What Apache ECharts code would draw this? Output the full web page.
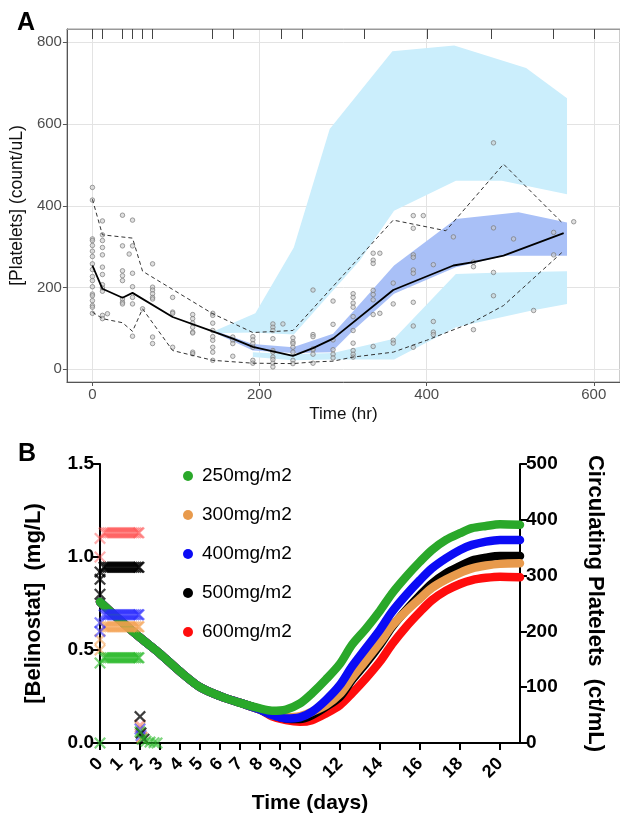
<!DOCTYPE html>
<html><head><meta charset="utf-8">
<script src="https://cdn.jsdelivr.net/npm/echarts@6/dist/echarts.min.js"></script>
<style>html,body{margin:0;padding:0;background:#fff}#c{width:620px;height:827px}</style>
</head><body><div id="c"></div>
<script>
// ---------- Panel A data ----------
const obsTimes = [0,12,18,36,44,48,60,72,96,120,144,168,192,216,228,240,264,288,312,336,344,360,384,396,408,432,456,480,504,528,552,576];
const obsValues = [
  [445,414,319,315,303,289,276,258,244,227,217,202,184,180,168,156,152,137],
  [363,329,315,298,280,250,232,207,199,191,132,124],
  [136],
  [377,302,241,229,217,172,164,160],
  [282],
  [365,302,235,202,176,160,81],
  [148],
  [258,201,194,185,176,172,79,63],
  [176,140,137,54],
  [134,124,113,103,91,89,42,38],
  [137,132,113,95,80,71,54,42,22],
  [79,71,63,32],
  [80,72,63,54,22,15],
  [111,103,95,75,46,42,30,24,15,6],
  [111],
  [77,67,63,54,42,22,14],
  [194,85,80,50,48,37,15],
  [167,110,72,48,37,28],
  [185,176,162,152,129,95,64,46,37,30],
  [284,267,259,193,183,170,134,56],
  [137,284],
  [211,160,71,64],
  [376,345,280,274,243,235,164,106,54],
  [376],
  [256,117,91,85],
  [324],
  [262,251,97],
  [554,346,237,180],
  [319],
  [144],
  [335,280],
  [361]
];
const rugTimes = [0,12,36,48,60,72,144,168,226,251,325,401,477,551,601];
const medianT = [0,12,36,48,96,144,168,192,240,264,288,360,432,456,492,564];
const medianV = [254,197,175,187,128,93,75,55,33,52,75,194,254,262,278,333];
const p95T = [0,12,48,60,144,192,240,360,423,492,562];
const p95V = [416,329,321,240,136,90,95,365,339,502,359];
const p05T = [0,12,36,48,60,96,144,192,240,264,288,312,360,400,455,492,562];
const p05V = [140,124,114,93,148,46,22,15,14,18,20,30,42,71,115,156,286];
// prediction-interval bands (upper edge / lower edge)
const hiBandUpT = [144,195,241,284,359,433,519,568];
const hiBandUpV = [92,137,298,588,778,792,737,663];
const hiBandLoT = [144,192,241,320,361,435,490,568];
const hiBandLoV = [88,90,85,266,388,461,461,428];
const midBandUpT = [150,192,240,288,320,361,435,510,568];
const midBandUpV = [92,62,54,87,160,254,368,384,359];
const midBandLoT = [150,192,240,286,312,361,435,494,568];
const midBandLoV = [86,46,40,42,95,185,250,278,278];
const loBandUpT = [192,240,288,361,435,490,568];
const loBandUpV = [42,37,40,75,233,237,240];
const loBandLoT = [192,240,288,361,435,526,568];
const loBandLoV = [30,22,24,24,103,144,160];
const xTicksA = [0,200,400,600];
const yTicksA = [0,200,400,600,800];

// ---------- Panel B data ----------
const doseNames = ['250mg/m2','300mg/m2','400mg/m2','500mg/m2','600mg/m2'];
const dayGrid = [0,1,2,3,4,5,6,7,8,8.6,9.3,10,10.6,11.3,12,12.6,13.3,14,14.6,15.3,16,16.6,17.3,18,18.6,19.3,20,21];
const plt250 = [253,220,189,160,128,100,84,72,62,58,60,71,89,114,142,176,205,237,268,298,325,346,364,376,385,389,392,391];
const plt300 = [253,220,189,160,128,100,84,72,60,50,46,48,56,68,88,117,148,180,210,236,259,278,293,305,313,318,321,322];
const plt400 = [253,220,189,160,128,100,84,72,60,50,44,46,56,77,104,137,170,203,235,265,292,313,331,346,355,361,364,364];
const plt500 = [253,220,189,160,128,100,84,72,60,50,44,43,50,65,83,113,143,176,208,238,265,286,304,317,327,332,335,335];
const plt600 = [253,220,189,160,128,100,84,72,60,48,41,38,41,53,68,89,116,146,177,208,235,256,273,285,292,296,298,297];
const infusionDays = [0.2,0.3,0.4,0.5,0.6,0.7,0.8,0.9,1.0,1.1,1.2,1.3,1.4,1.5,1.6,1.7,1.8,1.9,1.95];
const plateau = {"250":0.458, "300":0.625, "400":0.69, "500":0.945, "600":1.13};
const startConc250 = [0.43, 0.0];
const startConc300 = [0.557, 0.5];
const startConc400 = [0.647, 0.6];
const startConc500 = [0.8, 0.88, 0.92];
const startConc600 = [1.0, 1.1];
const postDays250 = [2.0,2.1,2.3,2.5,2.7,2.85];
const postConc250 = [0.06,0.02,0.01,0.005,0.002,0.0];
const postDays300 = [2.0,2.1];
const postConc300 = [0.085,0.03];
const postDays400 = [2.0,2.05];
const postConc400 = [0.075,0.04];
const postDays500 = [2.0,2.05,2.2];
const postConc500 = [0.142,0.054,0.02];
const postDays600 = [2.0,2.1];
const postConc600 = [0.097,0.03];
const dayTicks = [0,1,2,3,4,5,6,7,8,9,10,12,14,16,18,20];

// ---------- build ----------
const obsData = [];
obsTimes.forEach((t,i)=>obsValues[i].forEach(v=>obsData.push([t,v])));
const zip = (a,b)=>a.map((x,i)=>[x,b[i]]);

function band(upT, upV, loT, loV, color, z){
  return {
    type:'custom', xAxisIndex:0, yAxisIndex:0, silent:true, z:z,
    data:[[upT[0], upV[0]]],
    renderItem:function(params, api){
      const pts=[];
      for(let i=0;i<upT.length;i++) pts.push(api.coord([upT[i], upV[i]]));
      for(let i=loT.length-1;i>=0;i--) pts.push(api.coord([loT[i], loV[i]]));
      return {type:'polygon', shape:{points:pts}, style:{fill:color}};
    }
  };
}
const XPATH = 'path://M0,0.13L0.13,0L0.5,0.37L0.87,0L1,0.13L0.63,0.5L1,0.87L0.87,1L0.5,0.63L0.13,1L0,0.87L0.37,0.5Z';
function xMarks(name, start, pDays, pConc, color){
  const d = [];
  start.forEach(v=>d.push([0, v]));
  infusionDays.forEach(t=>d.push([t, plateau[name]]));
  pDays.forEach((t,i)=>d.push([t, pConc[i]]));
  return {type:'scatter', xAxisIndex:2, yAxisIndex:1, symbol:XPATH, symbolSize:12,
    itemStyle:{color:color}, data:d, z:6, silent:true};
}
const curveColors = {'250mg/m2':'#2aa82a','300mg/m2':'#e89a4c','400mg/m2':'#0b0bf5','500mg/m2':'#000000','600mg/m2':'#ff0d0d'};
function curve(name, vals){
  return {type:'line', name:name, xAxisIndex:2, yAxisIndex:2, data:zip(dayGrid, vals),
    smooth:0.3, showSymbol:false, symbol:'circle',
    lineStyle:{width:8.5, color:curveColors[name], cap:'round', join:'round'},
    itemStyle:{color:curveColors[name]}, z:5, silent:true};
}

const FA = 'Liberation Sans, Arial, sans-serif';
const chart = echarts.init(document.getElementById('c'), null, {renderer:'canvas'});
chart.setOption({
  animation:false,
  backgroundColor:'#ffffff',
  title:[
    {text:'A', left:12, top:6, textStyle:{fontSize:25, fontWeight:'bold', fontFamily:FA, color:'#000'}},
    {text:'B', left:13, top:437, textStyle:{fontSize:25, fontWeight:'bold', fontFamily:FA, color:'#000'}}
  ],
  legend:{
    data:doseNames, orient:'vertical', left:178, top:461, itemGap:19, itemWidth:18, itemHeight:10,
    icon:'circle', textStyle:{fontSize:19, fontFamily:FA, color:'#000', lineHeight:20}, selectedMode:false
  },
  grid:[
    {left:65, top:29, width:557, height:353, show:true, borderColor:'#999', borderWidth:1},
    {left:100, top:464, width:420, height:279}
  ],
  xAxis:[
    {type:'value', gridIndex:0, min:-30.5, max:631.4,
     axisLine:{show:true, onZero:false, lineStyle:{color:'#555', width:1}},
     axisTick:{show:true, customValues:xTicksA, length:4, lineStyle:{color:'#555'}},
     axisLabel:{customValues:xTicksA, color:'#4d4d4d', fontSize:15, fontFamily:FA, margin:5},
     splitLine:{show:true, lineStyle:{color:'#e3e3e3', width:1}},
     name:'Time (hr)', nameLocation:'middle', nameGap:24,
     nameTextStyle:{fontSize:17, fontFamily:FA, color:'#111'}},
    {type:'value', gridIndex:0, position:'top', min:-30.5, max:631.4,
     axisLine:{show:true, onZero:false, lineStyle:{color:'#999', width:1}},
     axisTick:{show:true, inside:true, length:10, customValues:rugTimes, lineStyle:{color:'#444', width:1}},
     axisLabel:{show:false}, splitLine:{show:false}},
    {type:'value', gridIndex:1, min:0, max:21,
     axisLine:{show:true, onZero:false, lineStyle:{color:'#000', width:2}},
     axisTick:{show:true, customValues:dayTicks, length:7, lineStyle:{color:'#000', width:2}},
     axisLabel:{customValues:dayTicks, rotate:45, color:'#000', fontSize:18, fontWeight:'bold', fontFamily:FA, margin:18},
     splitLine:{show:false},
     name:'Time (days)', nameLocation:'middle', nameGap:50,
     nameTextStyle:{fontSize:21, fontWeight:'bold', fontFamily:FA, color:'#000'}}
  ],
  yAxis:[
    {type:'value', gridIndex:0, min:-31, max:832.5,
     axisLine:{show:true, onZero:false, lineStyle:{color:'#555', width:1}},
     axisTick:{show:true, customValues:yTicksA, length:4, lineStyle:{color:'#555'}},
     axisLabel:{customValues:yTicksA, color:'#4d4d4d', fontSize:15, fontFamily:FA, margin:5},
     splitLine:{show:true, lineStyle:{color:'#e3e3e3', width:1}},
     name:'[Platelets] (count/uL)', nameLocation:'middle', nameGap:36, nameRotate:90,
     nameTextStyle:{fontSize:17.5, fontFamily:FA, color:'#111'}},
    {type:'value', gridIndex:1, min:0, max:1.5, interval:0.5, position:'left',
     axisLine:{show:true, onZero:false, lineStyle:{color:'#000', width:2}},
     axisTick:{show:true, length:7, lineStyle:{color:'#000', width:2}},
     axisLabel:{color:'#000', fontSize:19, fontWeight:'bold', fontFamily:FA, margin:6, formatter:v=>v.toFixed(1)},
     splitLine:{show:false},
     name:'[Belinostat]  (mg/L)', nameLocation:'middle', nameGap:55, nameRotate:90,
     nameTextStyle:{fontSize:22, fontWeight:'bold', fontFamily:FA, color:'#000'}},
    {type:'value', gridIndex:1, min:0, max:500, interval:100, position:'right',
     axisLine:{show:true, onZero:false, lineStyle:{color:'#000', width:2}},
     axisTick:{show:true, length:7, lineStyle:{color:'#000', width:2}},
     axisLabel:{color:'#000', fontSize:19, fontWeight:'bold', fontFamily:FA, margin:6},
     splitLine:{show:false},
     name:'Circulating Platelets  (ct/mL)', nameLocation:'middle', nameGap:64, nameRotate:-90,
     nameTextStyle:{fontSize:22, fontWeight:'bold', fontFamily:FA, color:'#000'}}
  ],
  series:[
    band(hiBandUpT, hiBandUpV, hiBandLoT, hiBandLoV, '#cbeefc', 1),
    band(loBandUpT, loBandUpV, loBandLoT, loBandLoV, '#cbeefc', 1),
    band(midBandUpT, midBandUpV, midBandLoT, midBandLoV, '#a9c0f7', 2),
    {type:'scatter', xAxisIndex:0, yAxisIndex:0, data:obsData, symbol:'circle', symbolSize:4.5,
     itemStyle:{color:'rgba(200,200,200,0.7)', borderColor:'#7a7a7a', borderWidth:0.9}, z:3, silent:true},
    {type:'line', xAxisIndex:0, yAxisIndex:0, data:zip(p95T,p95V), showSymbol:false,
     lineStyle:{color:'#333', width:1, type:[4,3]}, z:4, silent:true},
    {type:'line', xAxisIndex:0, yAxisIndex:0, data:zip(p05T,p05V), showSymbol:false,
     lineStyle:{color:'#333', width:1, type:[4,3]}, z:4, silent:true},
    {type:'line', xAxisIndex:0, yAxisIndex:0, data:zip(medianT,medianV), showSymbol:false,
     lineStyle:{color:'#000', width:1.8}, z:5, silent:true},
    curve('600mg/m2', plt600),
    curve('500mg/m2', plt500),
    curve('300mg/m2', plt300),
    curve('400mg/m2', plt400),
    curve('250mg/m2', plt250),
    xMarks('600', startConc600, postDays600, postConc600, 'rgba(255,70,70,0.55)'),
    xMarks('300', startConc300, postDays300, postConc300, 'rgba(245,160,80,0.7)'),
    xMarks('400', startConc400, postDays400, postConc400, 'rgba(40,40,255,0.7)'),
    xMarks('500', startConc500, postDays500, postConc500, 'rgba(0,0,0,0.95)'),
    xMarks('250', startConc250, postDays250, postConc250, 'rgba(40,185,40,0.75)')
  ]
});
</script></body></html>
